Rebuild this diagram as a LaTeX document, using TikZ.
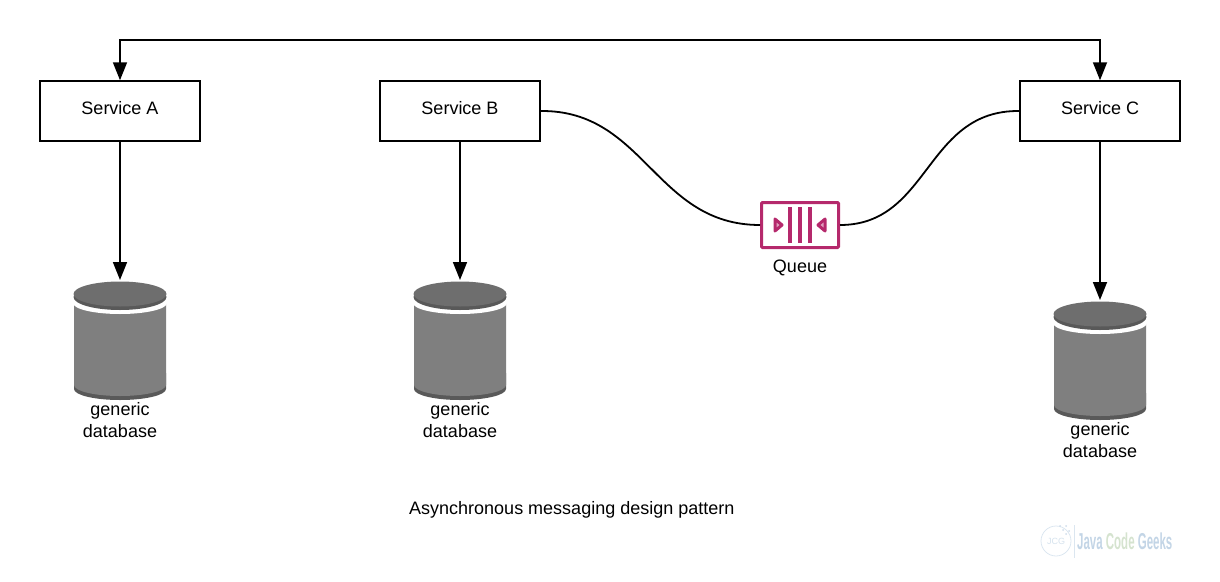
\documentclass[tikz,border=0pt]{standalone}
\usepackage{fontspec}
\setmainfont{Liberation Sans}
\usetikzlibrary{arrows.meta}
\definecolor{queuecol}{HTML}{B5296C}
\definecolor{dbbody}{HTML}{7F7F7F}
\definecolor{dbtop}{HTML}{6E6E6E}
\definecolor{dbrim}{HTML}{595959}
\definecolor{wmblue}{HTML}{C3D5E6}
\definecolor{wmgreen}{HTML}{D5E3CF}

\begin{document}
\begin{tikzpicture}[x=1pt,y=-1pt,
    service/.style={draw,line width=1.5pt,minimum width=160pt,minimum height=60pt,inner sep=0pt,text height=12pt,text depth=6pt,font=\fontsize{18}{22}\selectfont},
    label/.style={align=center,inner sep=0pt,font=\fontsize{18}{22}\selectfont},
    link/.style={line width=1.7pt,-{Triangle[length=18pt,width=14pt]}},
    curve/.style={line width=1.8pt}]

    \useasboundingbox (0,0) rectangle (1220,581);

    % #1 name, #2 x of the axis, #3 y of the top
    \def\database#1#2#3{
      \begin{scope}[shift={(#2,#3)}]
        \fill[dbrim] (-46,92) -- (-46,108) arc[start angle=180,end angle=0,x radius=46,y radius=11] -- (46,92) -- cycle;
        \fill[dbbody] (-46,22) -- (-46,104) arc[start angle=180,end angle=0,x radius=46,y radius=11] -- (46,22) -- cycle;
        \fill[white] (0,22) ellipse[x radius=47,y radius=11];
        \fill[dbrim] (0,16) ellipse[x radius=46.5,y radius=13];
        \fill[dbtop] (0,13) ellipse[x radius=46.5,y radius=12.5];
        \node[label] at (0,139.5) {generic\\database};
        \coordinate (#1) at (0,-1);
      \end{scope}
    }

    \node[service] (svca) at (120,111) {Service A};
    \node[service] (svcb) at (460,111) {Service B};
    \node[service] (svcc) at (1100,111) {Service C};

    \database{dba}{120}{281}
    \database{dbb}{460}{281}
    \database{dbc}{1100}{301}

    % queue icon
    \node[draw=queuecol,line width=3pt,rounded corners=1pt,minimum width=77pt,minimum height=45pt,inner sep=0pt] (queue) at (800,225) {};
    \foreach \i in {790,800,810} {
      \fill[queuecol] (\i-1.7,207) rectangle (\i+1.7,243);
    }
    \draw[queuecol,line width=3pt,line join=round,fill=queuecol!45] (775,219) -- (782,225) -- (775,231) -- cycle;
    \draw[queuecol,line width=3pt,line join=round,fill=queuecol!45] (825,219) -- (818,225) -- (825,231) -- cycle;
    \node[label] (queuetxt) at (800,268) {Queue};

    \draw[link,{Triangle[length=18pt,width=14pt]}-{Triangle[length=18pt,width=14pt]}] (svca.north) -- (120,40) -- (1100,40) -- (svcc.north);
    \draw[link] (svca.south) -- (dba);
    \draw[link] (svcb.south) -- (dbb);
    \draw[link] (svcc.south) -- (dbc);
    \draw[curve] (svcb.east) .. controls (645,110) and (655,225) .. (queue.west);
    \draw[curve] (queue.east) .. controls (930,225) and (925,110) .. (svcc.west);

    \node[label,anchor=west] (caption) at (409,510) {Asynchronous messaging design pattern};

    % watermark
    \draw[wmblue!60,line width=0.8pt] (1056,541) circle[radius=15];
    \foreach \i/\j in {1066/526,1063/530,1069/531,1066/534,1060/526} {
      \fill[wmblue!80] (\i,\j) circle[radius=1];
    }
    \node[text=wmblue!70,inner sep=0pt,font=\fontsize{9}{9}\selectfont] (wmlogo) at (1056,541) {JCG};
    \draw[wmblue!60,line width=0.6pt] (1074,525) -- (1074,558);
    \node[inner sep=0pt,anchor=west,xscale=0.5,font=\bfseries\fontsize{23}{23}\selectfont] (wmtext) at (1077,541) {\textcolor{wmblue}{Java} \textcolor{wmgreen}{Code} \textcolor{wmblue}{Geeks}};

\end{tikzpicture}
\end{document}
